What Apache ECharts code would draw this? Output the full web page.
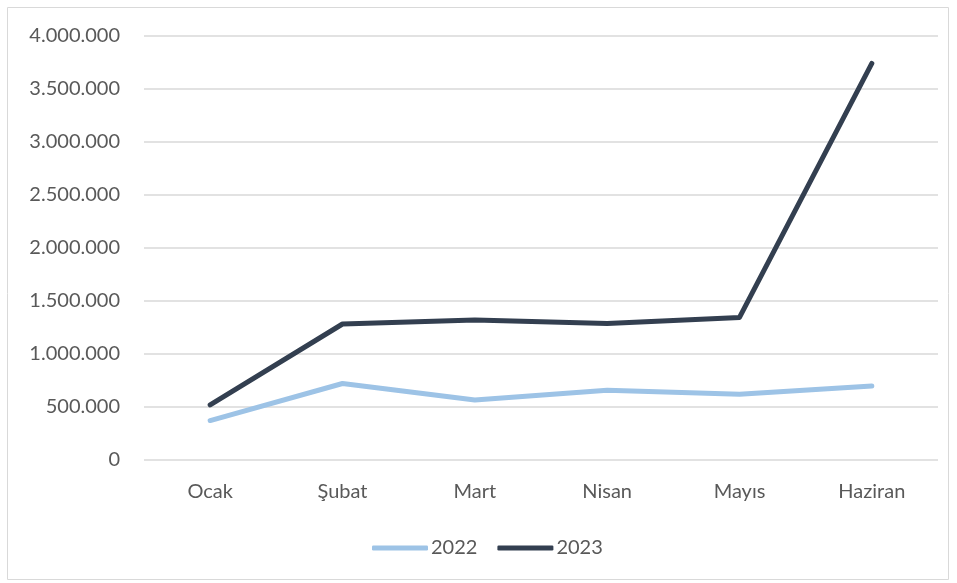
<!DOCTYPE html>
<html><head><meta charset="utf-8">
<script src="https://cdn.jsdelivr.net/npm/echarts@6/dist/echarts.min.js"></script>
<style>html,body{margin:0;padding:0;background:#fff}#c{width:957px;height:583px}</style>
</head><body><div id="c"></div>
<script>
const categories = ['Ocak','Şubat','Mart','Nisan','Mayıs','Haziran'];
const s2022 = [372000, 722000, 566000, 658000, 620000, 698000];
const s2023 = [519000, 1283000, 1321000, 1288000, 1345000, 3742000];
const yTicks = {min:0, max:4000000, interval:500000};

const fmt = v => String(Math.round(v)).replace(/\B(?=(\d{3})+(?!\d))/g, '.');
const font = 'Lato, "Open Sans", sans-serif';
const chart = echarts.init(document.getElementById('c'));
chart.setOption({
  animation:false,
  graphic:[{type:'rect',shape:{x:7.5,y:7.5,width:941,height:572},style:{fill:'none',stroke:'#d9d9d9',lineWidth:1}}],
  grid:{left:144,right:19,top:36,bottom:123},
  legend:{bottom:25,left:372,itemWidth:56,itemHeight:5,itemGap:20,icon:'roundRect',padding:0,
    textStyle:{color:'#595959',fontSize:20,fontFamily:font,padding:[0,0,0,-2]},
    data:['2022','2023']},
  xAxis:{type:'category',data:categories,boundaryGap:true,
    axisLine:{show:false},axisTick:{show:false},
    axisLabel:{color:'#595959',fontSize:20,fontFamily:font,margin:22}},
  yAxis:{type:'value',min:yTicks.min,max:yTicks.max,interval:yTicks.interval,
    axisLine:{show:false},axisTick:{show:false},
    splitLine:{lineStyle:{color:'#d9d9d9',width:1.5}},
    axisLabel:{color:'#595959',fontSize:20,fontFamily:font,margin:24,formatter:fmt}},
  series:[
    {name:'2022',type:'line',data:s2022,symbol:'none',lineStyle:{color:'#9dc3e6',width:5,cap:'round',join:'round'},itemStyle:{color:'#9dc3e6'}},
    {name:'2023',type:'line',data:s2023,symbol:'none',lineStyle:{color:'#333f50',width:5,cap:'round',join:'round'},itemStyle:{color:'#333f50'}}
  ]
});
</script></body></html>
